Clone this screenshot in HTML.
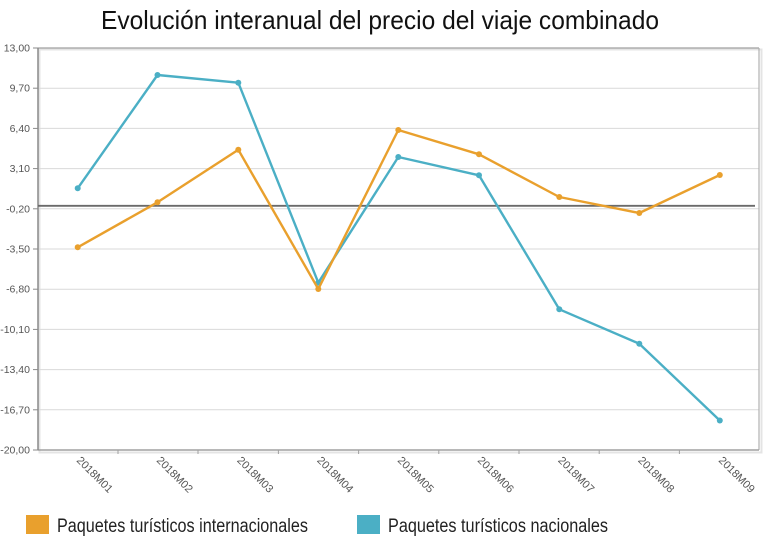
<!DOCTYPE html>
<html>
<head>
<meta charset="utf-8">
<style>
html,body{margin:0;padding:0;background:#fff;}
svg{display:block;}
</style>
</head>
<body>
<svg width="768" height="556" viewBox="0 0 768 556" xmlns="http://www.w3.org/2000/svg" font-family="Liberation Sans, Arial, sans-serif">
  <rect width="768" height="556" fill="#fff"/>
  <!-- title -->
  <text x="101" y="29" font-size="26" fill="#111" textLength="558" lengthAdjust="spacingAndGlyphs">Evolución interanual del precio del viaje combinado</text>

  <!-- plot shadow -->
  <rect x="39.5" y="49.5" width="722" height="403" fill="none" stroke="#e4e4e4" stroke-width="2"/>
  <!-- gridlines -->
  <g stroke="#d9d9d9" stroke-width="1">
    <line x1="38" y1="88.2" x2="759" y2="88.2"/>
    <line x1="38" y1="128.4" x2="759" y2="128.4"/>
    <line x1="38" y1="168.6" x2="759" y2="168.6"/>
    <line x1="38" y1="208.8" x2="759" y2="208.8"/>
    <line x1="38" y1="249" x2="759" y2="249"/>
    <line x1="38" y1="289.2" x2="759" y2="289.2"/>
    <line x1="38" y1="329.4" x2="759" y2="329.4"/>
    <line x1="38" y1="369.6" x2="759" y2="369.6"/>
    <line x1="38" y1="409.8" x2="759" y2="409.8"/>
  </g>
  <!-- plot border -->
  <line x1="38" y1="48" x2="759" y2="48" stroke="#a0a0a0" stroke-width="1.2"/>
  <line x1="759" y1="48" x2="759" y2="450" stroke="#b0b0b0" stroke-width="1.2"/>
  <line x1="38" y1="450" x2="759" y2="450" stroke="#a0a0a0" stroke-width="1.4"/>
  <line x1="38" y1="48" x2="38" y2="450" stroke="#8a8a8a" stroke-width="1.5"/>
  <!-- zero line -->
  <line x1="38" y1="205.8" x2="755" y2="205.8" stroke="#6a6a6a" stroke-width="1.8"/>

  <!-- y ticks -->
  <g stroke="#8a8a8a" stroke-width="1">
    <line x1="33" y1="48" x2="38" y2="48"/>
    <line x1="33" y1="88.2" x2="38" y2="88.2"/>
    <line x1="33" y1="128.4" x2="38" y2="128.4"/>
    <line x1="33" y1="168.6" x2="38" y2="168.6"/>
    <line x1="33" y1="208.8" x2="38" y2="208.8"/>
    <line x1="33" y1="249" x2="38" y2="249"/>
    <line x1="33" y1="289.2" x2="38" y2="289.2"/>
    <line x1="33" y1="329.4" x2="38" y2="329.4"/>
    <line x1="33" y1="369.6" x2="38" y2="369.6"/>
    <line x1="33" y1="409.8" x2="38" y2="409.8"/>
    <line x1="33" y1="450" x2="38" y2="450"/>
  </g>
  <g font-size="10.5" fill="#555" text-anchor="end">
    <text x="30" y="51.5">13,00</text>
    <text x="30" y="91.7">9,70</text>
    <text x="30" y="131.9">6,40</text>
    <text x="30" y="172.1">3,10</text>
    <text x="30" y="212.3">-0,20</text>
    <text x="30" y="252.5">-3,50</text>
    <text x="30" y="292.7">-6,80</text>
    <text x="30" y="332.9">-10,10</text>
    <text x="30" y="373.1">-13,40</text>
    <text x="30" y="413.3">-16,70</text>
    <text x="30" y="453.5">-20,00</text>
  </g>

  <!-- x ticks -->
  <g stroke="#a0a0a0" stroke-width="1">
    <line x1="118" y1="450" x2="118" y2="454"/>
    <line x1="198" y1="450" x2="198" y2="454"/>
    <line x1="278.4" y1="450" x2="278.4" y2="454"/>
    <line x1="358.6" y1="450" x2="358.6" y2="454"/>
    <line x1="438.8" y1="450" x2="438.8" y2="454"/>
    <line x1="519" y1="450" x2="519" y2="454"/>
    <line x1="599.2" y1="450" x2="599.2" y2="454"/>
    <line x1="679.4" y1="450" x2="679.4" y2="454"/>
  </g>
  <g font-size="11" fill="#555">
    <text transform="translate(76,461) rotate(45)">2018M01</text>
    <text transform="translate(156,461) rotate(45)">2018M02</text>
    <text transform="translate(236.5,461) rotate(45)">2018M03</text>
    <text transform="translate(316.5,461) rotate(45)">2018M04</text>
    <text transform="translate(397,461) rotate(45)">2018M05</text>
    <text transform="translate(477,461) rotate(45)">2018M06</text>
    <text transform="translate(557.5,461) rotate(45)">2018M07</text>
    <text transform="translate(637.5,461) rotate(45)">2018M08</text>
    <text transform="translate(718,461) rotate(45)">2018M09</text>
  </g>

  <!-- series: nacionales (blue) -->
  <polyline fill="none" stroke="#4bafc5" stroke-width="2.4" stroke-linejoin="round"
    points="77.7,188.3 157.5,75 238.3,82.7 318.3,282.7 398.3,157 479,175.3 559.3,309.3 639.3,343.7 719.8,420.5"/>
  <g fill="#4bafc5">
    <circle cx="77.7" cy="188.3" r="3"/>
    <circle cx="157.5" cy="75" r="3"/>
    <circle cx="238.3" cy="82.7" r="3"/>
    <circle cx="318.3" cy="282.7" r="3"/>
    <circle cx="398.3" cy="157" r="3"/>
    <circle cx="479" cy="175.3" r="3"/>
    <circle cx="559.3" cy="309.3" r="3"/>
    <circle cx="639.3" cy="343.7" r="3"/>
    <circle cx="719.8" cy="420.5" r="3"/>
  </g>

  <!-- series: internacionales (orange) -->
  <polyline fill="none" stroke="#e9a02d" stroke-width="2.4" stroke-linejoin="round"
    points="77.7,247.3 157.5,202.3 238.3,149.7 318.3,289 398.3,130 479,154.3 559.3,197 639.3,213 719.8,175"/>
  <g fill="#e9a02d">
    <circle cx="77.7" cy="247.3" r="3"/>
    <circle cx="157.5" cy="202.3" r="3"/>
    <circle cx="238.3" cy="149.7" r="3"/>
    <circle cx="318.3" cy="289" r="3"/>
    <circle cx="398.3" cy="130" r="3"/>
    <circle cx="479" cy="154.3" r="3"/>
    <circle cx="559.3" cy="197" r="3"/>
    <circle cx="639.3" cy="213" r="3"/>
    <circle cx="719.8" cy="175" r="3"/>
  </g>

  <!-- legend -->
  <rect x="26" y="515" width="23" height="19" fill="#e9a02d"/>
  <text x="57" y="532" font-size="19" fill="#222" textLength="251" lengthAdjust="spacingAndGlyphs">Paquetes turísticos internacionales</text>
  <rect x="357" y="515" width="23" height="19" fill="#4bafc5"/>
  <text x="388" y="532" font-size="19" fill="#222" textLength="220" lengthAdjust="spacingAndGlyphs">Paquetes turísticos nacionales</text>
</svg>
</body>
</html>
